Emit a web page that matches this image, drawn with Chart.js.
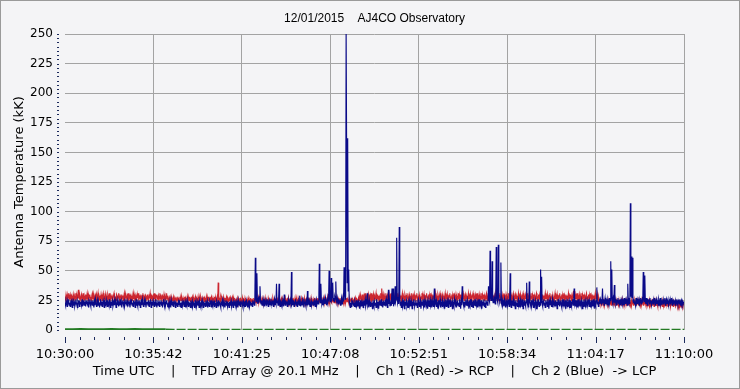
<!DOCTYPE html>
<html><head><meta charset="utf-8">
<script src="https://cdn.jsdelivr.net/npm/chart.js@4/dist/chart.umd.min.js"></script>
<style>html,body{margin:0;padding:0;background:#f4f4f6;}canvas{display:block;}</style>
</head><body>
<canvas id="c" width="740" height="389"></canvas>
<script>
// Time axis: seconds after 10:30:00 UTC
const tickLabels = ["10:30:00","10:35:42","10:41:25","10:47:08","10:52:51","10:58:34","11:04:17","11:10:00"];
const spanSeconds = 2400;
const sampleStep = 2;   // seconds between Ch1/Ch2 samples
const greenStep = 30;   // seconds between third-trace samples

// Ch 2 (Blue) -> LCP, kK
const ch2Blue = [
23,21,25,22,20,24,22,26,21,23,20,24,25,22,19,23,21,25,24,20,22,26,23,21,19,24,22,25,20,23,22,24,21,26,20,23,25,21,22,24,
20,23,25,22,21,24,19,23,26,22,20,24,23,21,25,22,19,24,21,26,23,20,22,25,21,24,22,19,23,26,21,24,20,22,25,23,19,24,22,21,
25,22,20,24,23,21,26,22,19,24,21,23,25,20,22,24,21,26,23,19,22,25,21,24,20,23,22,26,21,24,19,23,25,22,20,24,21,23,26,22,
21,24,20,23,25,22,19,24,22,26,21,23,20,25,22,24,19,23,21,26,22,20,24,23,21,25,19,22,24,21,26,23,20,22,25,21,24,19,23,22,
24,21,25,20,23,22,26,19,24,21,23,25,22,20,24,21,26,23,19,22,25,21,24,20,23,22,25,21,24,19,23,26,22,20,24,21,23,25,22,21,
22,20,24,21,23,19,25,22,21,24,20,23,22,25,19,24,21,23,20,22,24,21,25,20,23,19,22,24,21,23,25,20,22,24,19,23,21,25,22,20,
24,21,23,19,25,22,20,24,21,23,22,19,25,21,24,20,22,23,21,25,19,24,22,20,23,21,25,22,19,24,21,23,20,25,22,21,24,19,23,22,
20,24,22,25,19,23,21,24,22,20,25,21,23,19,24,22,21,25,20,23,24,21,19,23,22,25,20,24,21,23,19,22,25,21,24,20,23,22,19,24,
21,23,25,20,22,24,19,23,21,25,22,20,24,21,23,19,25,22,21,24,20,23,22,25,21,19,24,22,23,20,25,21,24,22,19,23,21,25,20,22,
24,21,23,20,25,22,24,21,26,61,27,24,48,25,22,26,23,28,37,24,22,25,21,23,26,22,24,20,25,23,21,24,22,26,20,23,25,21,24,22,
21,24,22,25,20,23,26,21,24,22,39,23,25,21,24,39,22,20,24,23,21,25,22,24,20,30,23,21,25,22,24,20,23,26,21,24,22,25,23,49,
22,24,21,25,20,23,22,26,21,24,20,23,25,22,21,29,24,20,23,22,25,21,24,19,23,26,22,20,24,21,33,23,25,21,24,20,22,25,21,23,
24,21,23,25,22,20,24,26,21,23,25,22,24,56,27,23,39,25,22,24,21,26,23,25,22,27,24,21,25,23,28,26,50,27,24,29,44,26,28,40,
25,27,24,28,26,41,25,23,27,24,22,26,23,25,21,24,27,22,25,28,24,53,30,26,28,250,250,40,162,33,51,24,21,19,23,20,24,22,25,21,
23,20,24,22,19,25,21,23,20,24,22,18,25,21,23,20,24,22,19,25,21,23,26,20,22,24,31,21,23,19,25,22,20,24,21,23,18,25,22,20,
24,21,23,19,26,22,20,24,18,23,25,21,22,26,20,24,19,23,25,21,22,24,20,26,23,19,24,34,22,25,20,23,21,26,35,22,35,20,24,23,
37,24,26,78,28,23,25,22,87,26,21,24,19,23,25,20,22,26,18,24,21,23,25,20,22,19,24,26,21,23,20,25,22,18,24,21,26,23,20,22,
25,21,23,19,24,26,22,20,23,25,18,22,24,21,26,20,23,19,25,22,24,21,23,18,25,22,20,24,26,21,23,19,25,22,20,24,35,21,23,26,
20,24,22,18,25,21,23,26,19,24,22,20,25,23,21,24,18,22,26,20,23,25,21,19,24,22,26,20,23,21,25,18,24,22,20,26,23,21,24,19,
22,25,21,23,20,26,22,18,24,21,37,25,22,20,24,19,23,26,21,22,25,20,24,18,23,21,26,22,20,24,23,19,25,21,22,26,20,24,21,23,
19,24,22,26,20,23,21,25,18,22,24,21,26,20,23,19,25,22,24,21,23,37,26,24,67,28,25,27,58,26,23,25,28,24,22,26,70,27,25,23,
72,28,25,24,26,57,23,21,25,22,24,20,26,23,19,24,22,25,21,23,26,20,24,48,22,19,25,21,23,26,20,24,22,18,25,21,23,20,24,26,
21,23,19,25,22,24,20,26,18,23,21,25,22,20,24,40,23,21,26,19,41,24,22,20,25,21,23,26,19,24,22,20,25,23,18,24,21,26,22,20,
24,21,51,23,45,22,20,24,26,21,23,19,25,22,24,20,26,23,18,24,21,25,22,20,23,26,19,24,22,21,25,20,23,24,18,22,26,21,24,20,
23,25,21,19,24,22,26,20,23,21,25,18,24,22,20,26,23,21,24,19,25,22,20,24,26,21,23,35,22,24,20,25,21,23,19,26,22,24,20,23,
21,25,22,18,24,20,26,23,21,24,19,22,25,21,23,26,20,24,22,19,25,21,23,20,26,22,24,18,23,21,25,36,22,24,20,23,25,22,26,24,
22,25,35,23,26,21,24,27,22,25,23,26,21,24,22,27,23,25,58,26,51,24,22,27,25,38,23,26,22,24,21,25,27,23,24,22,26,21,25,23,
26,22,24,21,27,23,25,22,26,24,21,39,25,23,27,22,107,28,62,27,61,25,23,26,22,24,21,27,23,25,22,26,24,21,25,23,27,22,24,26,
23,49,26,24,46,25,22,27,23,21,25,24,26,22,27,23,25,21,24,26,22,25,23,27,21,24,26,22,25,23,21,26,24,22,27,23,25,21,24,26,
22,25,23,27,21,24,26,22,25,23,21,26,24,22,25,23,27,21,24,22,26,23,25,21,24,22,26,23,21,25,24,22,26,21,23,25,22,24,21,23,
24];

// Ch 1 (Red) -> RCP, kK
const ch1Red = [
28,26,30,27,25,29,27,31,26,28,30,27,25,29,28,26,30,27,29,25,28,31,26,29,27,30,34,28,26,29,27,25,30,28,26,31,27,29,25,28,
30,26,28,31,27,25,29,27,30,26,28,25,29,31,27,26,30,28,25,29,27,30,26,28,31,25,29,27,28,26,30,27,25,29,31,26,28,27,30,25,
29,27,26,30,28,25,31,27,29,26,28,30,25,27,29,31,26,28,27,25,30,29,26,28,31,27,25,29,28,26,30,27,29,25,28,31,26,27,30,28,
26,29,27,31,25,28,30,26,29,27,25,28,31,26,30,27,29,25,28,26,30,27,31,25,29,28,26,30,27,25,29,31,26,28,27,30,25,29,28,26,
30,27,25,29,28,31,26,27,30,25,28,29,26,31,27,25,29,28,30,26,27,29,25,28,31,26,30,27,25,29,28,26,30,27,29,25,28,31,26,29,
26,24,27,25,28,26,24,27,25,26,28,24,27,25,26,28,25,24,27,26,25,28,24,26,27,25,28,26,24,27,25,26,28,24,27,26,25,28,24,26,
27,25,28,24,26,27,25,28,26,24,27,25,26,28,24,27,26,25,28,24,26,27,25,28,26,24,27,25,26,28,24,27,26,25,28,24,26,27,25,28,
24,26,27,25,28,26,24,27,25,26,28,24,27,25,26,28,24,40,26,27,25,24,28,26,27,25,24,28,26,25,27,24,26,28,25,27,24,26,25,27,
28,24,26,25,27,24,28,26,25,27,24,26,23,25,27,24,26,23,25,27,24,26,25,23,27,24,26,25,23,27,25,24,26,23,25,27,24,26,23,25,
27,24,26,23,25,24,27,23,25,26,24,23,26,25,24,27,23,25,26,24,23,25,27,24,26,23,25,24,27,23,26,25,24,23,27,25,24,26,23,25,
24,26,23,27,25,24,26,23,25,27,24,23,26,25,24,27,23,25,24,26,23,27,25,24,23,26,25,27,24,23,25,26,24,27,23,25,24,26,23,25,
27,24,23,26,25,24,27,23,25,26,24,23,27,25,24,26,23,25,27,24,23,26,25,24,27,23,25,24,26,23,25,27,24,23,26,25,24,27,23,25,
24,26,23,25,27,24,23,26,25,24,27,23,25,24,26,23,27,25,24,23,26,25,24,27,23,25,26,24,23,27,25,24,26,23,25,27,24,23,26,25,
24,27,23,25,26,24,23,27,25,24,26,23,25,27,24,23,26,25,24,27,23,25,24,26,23,25,27,24,26,25,23,27,24,26,25,24,27,23,26,25,
24,26,23,27,25,24,26,25,23,27,25,28,26,29,27,24,30,26,28,25,29,27,31,26,28,25,29,27,30,26,28,24,29,27,31,26,28,25,30,27,
29,26,28,31,25,27,30,26,29,24,28,27,31,25,35,28,26,30,27,29,25,28,31,26,27,29,25,30,28,26,29,27,31,25,28,26,30,27,29,25,
28,30,26,29,27,31,25,28,26,30,27,29,24,28,31,26,29,27,25,30,28,26,29,31,27,25,28,30,26,29,27,25,31,28,26,29,27,30,25,28,
26,29,31,27,25,28,30,26,29,27,24,28,31,26,29,27,30,25,28,26,29,31,27,25,28,30,26,29,27,31,25,28,26,30,27,29,25,28,31,26,
29,27,25,30,28,26,29,31,27,25,28,30,26,29,27,24,28,31,26,29,27,30,25,28,26,29,31,27,25,28,30,26,29,27,31,25,28,26,30,27,
29,25,28,31,26,29,27,30,25,28,26,29,31,27,25,28,30,26,29,27,24,28,31,26,29,27,30,25,28,26,29,31,27,25,28,30,26,29,27,31,
25,28,26,30,27,29,25,28,31,26,29,27,30,25,28,26,29,31,27,25,28,30,26,29,27,31,25,28,26,30,27,29,24,28,31,26,29,27,30,25,
28,26,29,31,27,25,28,30,26,29,27,31,25,28,26,30,27,29,25,28,31,26,29,27,30,25,28,26,29,31,27,25,28,30,26,29,27,24,28,31,
26,29,27,30,25,28,26,29,31,27,25,28,30,26,29,27,31,25,28,26,30,27,29,25,28,31,26,29,27,30,25,28,26,29,31,27,25,28,30,26,
29,27,31,25,28,26,30,27,29,25,28,31,26,29,27,30,25,28,26,29,31,27,25,28,30,26,29,27,24,28,31,26,29,27,30,25,28,26,29,31,
27,25,28,30,26,29,27,31,25,28,26,30,27,29,25,28,31,26,29,27,30,25,28,26,29,31,27,33,28,30,26,29,27,31,25,28,26,30,27,29,
25,28,31,26,29,27,30,25,28,26,29,31,27,25,28,30,26,29,27,31,25,28,26,30,27,29,24,28,31,26,29,27,30,25,28,23,24,22,25,23,
21,24,23,25,22,24,21,23,25,22,24,23,21,25,22,24,23,22,25,21,24,23,22,25,21,24,22,23,25,21,24,22,23,21,25,22,24,23,21,24,
22,25,23,21,24,22,25,23,21,24,22,23,25,21,24,22,23,21,25,22,24,23,21,24,22,25,23,21,24,22,23,25,21,24,22,23,21,25,22,24,
23,21,24,22,25,23,21,24,22,23,20,24,22,25,21,23,22,24,21,23,25,22,20,24,22,23,21,24,22,20,23,25,21,22,24,21,23,22,20,24,
22,21,23,20,24,22,21,23,22,20,24,21,22,23,20,22,24,21,22,20,23,21,22,24,20,21,23,22,20,22,21,23,20,22,21,22,20,23,21,22,
21];

// third (green) trace near zero, kK
const ch3Green = [
0.6,0.5,0.7,0.6,0.5,0.6,0.7,0.5,0.6,0.7,0.6,0.5,0.6,0.6,
0.4,0.4,0.4,0.4,0.4,0.4,0.4,0.4,0.4,0.4,0.4,0.4,0.4,0.4,0.4,0.4,
0.4,0.4,0.4,0.4,0.4,0.4,0.4,0.4,0.4,0.4,0.4,0.4,0.4,0.4,0.4,0.4,
0.4,0.4,0.4,0.4,0.4,0.4,0.4,0.4,0.4,0.4,0.4,0.4,0.4,0.4,0.4,0.4,
0.4,0.4,0.4,0.4,0.4,0.4,0.4,0.4,0.4,0.4,0.4,0.4,0.4,0.4,0.4,0.4,
0.4,0.4,0.4];

const yTicks = [0,25,50,75,100,125,150,175,200,225,250];

const toPts = (arr, step) => arr.map((v, i) => ({x: i * step, y: v}));

const FONT = "'DejaVu Sans', Verdana, sans-serif";

const decor = {
  id: 'decor',
  beforeDraw(chart) {
    const c = chart.ctx;
    c.save();
    c.fillStyle = '#f4f4f6';
    c.fillRect(0, 0, chart.width, chart.height);
    c.strokeStyle = '#9a9a9a';
    c.lineWidth = 1;
    c.strokeRect(0.5, 0.5, chart.width - 1, chart.height - 1);
    c.restore();
  },
  afterDraw(chart) {
    const c = chart.ctx, xs = chart.scales.x, ys = chart.scales.y, a = chart.chartArea;
    c.save();
    c.fillStyle = '#1c2a5c';
    const nx = (tickLabels.length - 1) * 6;
    for (let k = 0; k <= nx; k++) {
      const px = Math.round(xs.getPixelForValue(k * spanSeconds / nx));
      const len = (k % 6 === 0) ? 6 : 3;
      c.fillRect(px, Math.round(a.bottom) + 7, 1, len);
    }
    const ny = (yTicks.length - 1) * 7;
    for (let k = 0; k <= ny; k++) {
      const py = Math.round(ys.getPixelForValue(k * 250 / ny));
      c.fillRect(Math.round(a.left) - 8, py, 2, 1);
    }
    c.restore();
  }
};

new Chart(document.getElementById('c'), {
  type: 'line',
  data: {
    datasets: [
      { label: 'Ch 2 (Blue)', data: toPts(ch2Blue, sampleStep), borderColor: '#0a0a88', borderWidth: 1.15, pointRadius: 0, order: 0 },
      { label: 'Ch 1 (Red)', data: toPts(ch1Red, sampleStep), borderColor: '#cc2630', borderWidth: 1.15, pointRadius: 0, order: 1 },
      { label: 'Ch 3', data: toPts(ch3Green, greenStep), borderColor: '#237a23', borderWidth: 2, pointRadius: 0, order: 2,
        segment: {
          borderWidth: ctx => ctx.p0DataIndex >= 13 ? 1.6 : 2.2,
          borderDash: ctx => ctx.p0DataIndex >= 13 ? [9, 2] : undefined
        } }
    ]
  },
  options: {
    responsive: false,
    devicePixelRatio: 1,
    animation: false,
    layout: { padding: { left: 0, right: 56, top: 0, bottom: 0 } },
    plugins: {
      legend: { display: false },
      tooltip: { enabled: false },
      title: {
        display: true, fullSize: false,
        text: '12/01/2015    AJ4CO Observatory',
        color: '#000',
        font: { family: "'Liberation Sans', Arial, sans-serif", size: 12, weight: 'normal' },
        padding: { top: 11, bottom: 8.6 }
      }
    },
    scales: {
      x: {
        type: 'linear', min: 0, max: spanSeconds,
        afterFit: s => { s.height = 59; },
        afterBuildTicks: s => { s.ticks = tickLabels.map((l, i) => ({ value: i * spanSeconds / (tickLabels.length - 1) })); },
        ticks: {
          callback: (v, i) => tickLabels[i],
          autoSkip: false, maxRotation: 0, minRotation: 0,
          color: '#000', font: { family: FONT, size: 13 }, padding: 17
        },
        grid: {
          drawTicks: false,
          color: ctx => (ctx.tick && ctx.tick.value === 0) ? 'rgba(0,0,0,0)' : '#a3a3a3',
          lineWidth: 1
        },
        border: { display: false },
        title: {
          display: true,
          text: 'Time UTC    |    TFD Array @ 20.1 MHz    |    Ch 1 (Red) -> RCP    |    Ch 2 (Blue)  -> LCP',
          color: '#000', font: { family: FONT, size: 13 },
          padding: { top: 0, bottom: 9.5 }
        }
      },
      y: {
        min: 0, max: 250,
        afterFit: s => { s.width = 65; },
        afterBuildTicks: s => { s.ticks = yTicks.map(v => ({ value: v })); },
        ticks: { color: '#000', font: { family: FONT, size: 12 }, padding: 12 },
        grid: {
          drawTicks: false,
          color: ctx => (ctx.tick && ctx.tick.value === 0) ? 'rgba(0,0,0,0)' : '#a3a3a3',
          lineWidth: 1
        },
        border: { display: false },
        title: {
          display: true, text: 'Antenna Temperature (kK)',
          color: '#000', font: { family: FONT, size: 13 },
          padding: { top: 12.2, bottom: 0 }
        }
      }
    }
  },
  plugins: [decor]
});
</script>
</body></html>
